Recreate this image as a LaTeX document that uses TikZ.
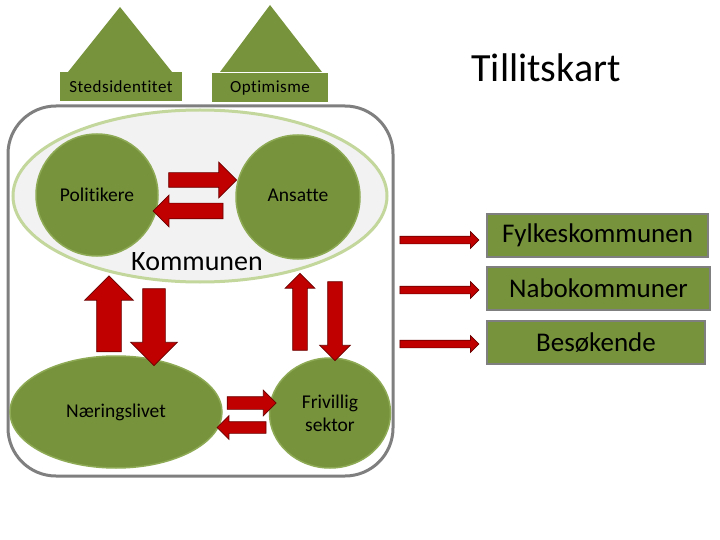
\documentclass[tikz,border=0pt]{standalone}
\usepackage{fontspec}
\setmainfont{Carlito}[Ligatures=NoCommon]
\newfontfamily\spaced{Carlito}[LetterSpace=3, Ligatures=NoCommon]
\usetikzlibrary{shapes.arrows, shapes.geometric}

\definecolor{olive}{HTML}{77933C}
\definecolor{leaf}{HTML}{8EAA55}
\definecolor{pale}{HTML}{C3D69B}
\definecolor{blood}{HTML}{C00000}
\definecolor{rim}{HTML}{7F7F7F}

\tikzset{
  blob/.style={fill=olive, draw=leaf, line width=1.5pt, inner sep=0pt},
  sign/.style={fill=olive, draw=none, inner sep=0pt, font=\spaced\fontsize{17}{20}\selectfont},
  target/.style={fill=olive, draw=rim, line width=1.5pt, inner sep=0pt,
    minimum height=43pt, font=\fontsize{27}{30}\selectfont},
  % length, half shaft, head extend
  blockarr/.style n args={3}{single arrow, fill=blood, draw=blood!55!black,
    line width=0.7pt, inner xsep=0pt, inner ysep=#2, minimum width=0pt,
    minimum height=#1, single arrow head extend=#3, single arrow tip angle=90},
}

\begin{document}
\begin{tikzpicture}[x=1pt, y=-1pt]
    \useasboundingbox (0,0) rectangle (720,540);

    % Tak
    \fill[olive] (68,72) -- (120,7) -- (172,72) -- cycle;
    \node[sign, minimum width=122pt, minimum height=29pt] (sted) at (121,87) {Stedsidentitet};
    \fill[olive] (220,72) -- (270,5) -- (322,72) -- cycle;
    \node[sign, minimum width=116pt, minimum height=29pt] (opt) at (270,88) {Optimisme};

    \node[font=\fontsize{40}{44}\selectfont] (title) at (546,68) {Tillitskart};

    % Kommunen
    \draw[rim, line width=3pt, fill=white, rounded corners=48pt] (8,106) rectangle (393,476);
    \draw[pale, line width=3pt, fill=black!5] (200,196) ellipse [x radius=187, y radius=86];
    \node[blob, circle, minimum size=122pt] (pol) at (97,195) {};
    \node[font=\fontsize{19.5}{22}\selectfont] (poltxt) at (pol) {Politikere};
    \node[blob, circle, minimum size=124pt] (ans) at (298,197) {};
    \node[font=\fontsize{19.5}{22}\selectfont] (anstxt) at ([yshift=2pt]ans.center) {Ansatte};
    \node[font=\fontsize{28}{30}\selectfont] (komm) at (197,262) {Kommunen};

    \node[blockarr={68pt}{7pt}{10.5pt}] (pa) at (199,180) {};
    \node[blockarr={70pt}{7.5pt}{8pt}, rotate=180] (ap) at (192,211) {};

    % Bunn
    \node[blob, ellipse, minimum width=212pt, minimum height=112pt] (naer) at (116,412) {};
    \node[font=\fontsize{19.5}{22}\selectfont] (naertxt) at (naer) {Næringslivet};
    \node[blob, ellipse, minimum width=121pt, minimum height=110pt] (friv) at (330,413) {};
    \node[font=\fontsize{19.5}{23}\selectfont, align=center] (frivtxt) at (friv) {Frivillig\\sektor};

    \node[blockarr={76pt}{12pt}{12pt}, rotate=90] (nk) at (109,320) {};
    \node[blockarr={77pt}{11pt}{12pt}, rotate=-90] (kn) at (154,321.5) {};
    \node[blockarr={77pt}{7pt}{7.5pt}, rotate=90] (fk) at (300,315.5) {};
    \node[blockarr={79pt}{7pt}{8pt}, rotate=-90] (kf) at (335,317.5) {};
    \node[blockarr={49pt}{6pt}{6.5pt}] (nf) at (248.5,403) {};
    \node[blockarr={49pt}{5.5pt}{6pt}, rotate=180] (fn) at (244.5,427.5) {};

    % Utenfor
    \node[target, minimum width=221pt] (fylke) at (597.5,235.5) {Fylkeskommunen};
    \node[target, minimum width=223pt] (nabo) at (598.5,288.5) {Nabokommuner};
    \node[target, minimum width=218pt] (bes) at (596,342.5) {Besøkende};

    \foreach \y/\n in {240/fylke, 290/nabo, 344/bes}
      \node[blockarr={79pt}{3.5pt}{4.5pt}] (to\n) at (437.5,\y) {};
\end{tikzpicture}
\end{document}
